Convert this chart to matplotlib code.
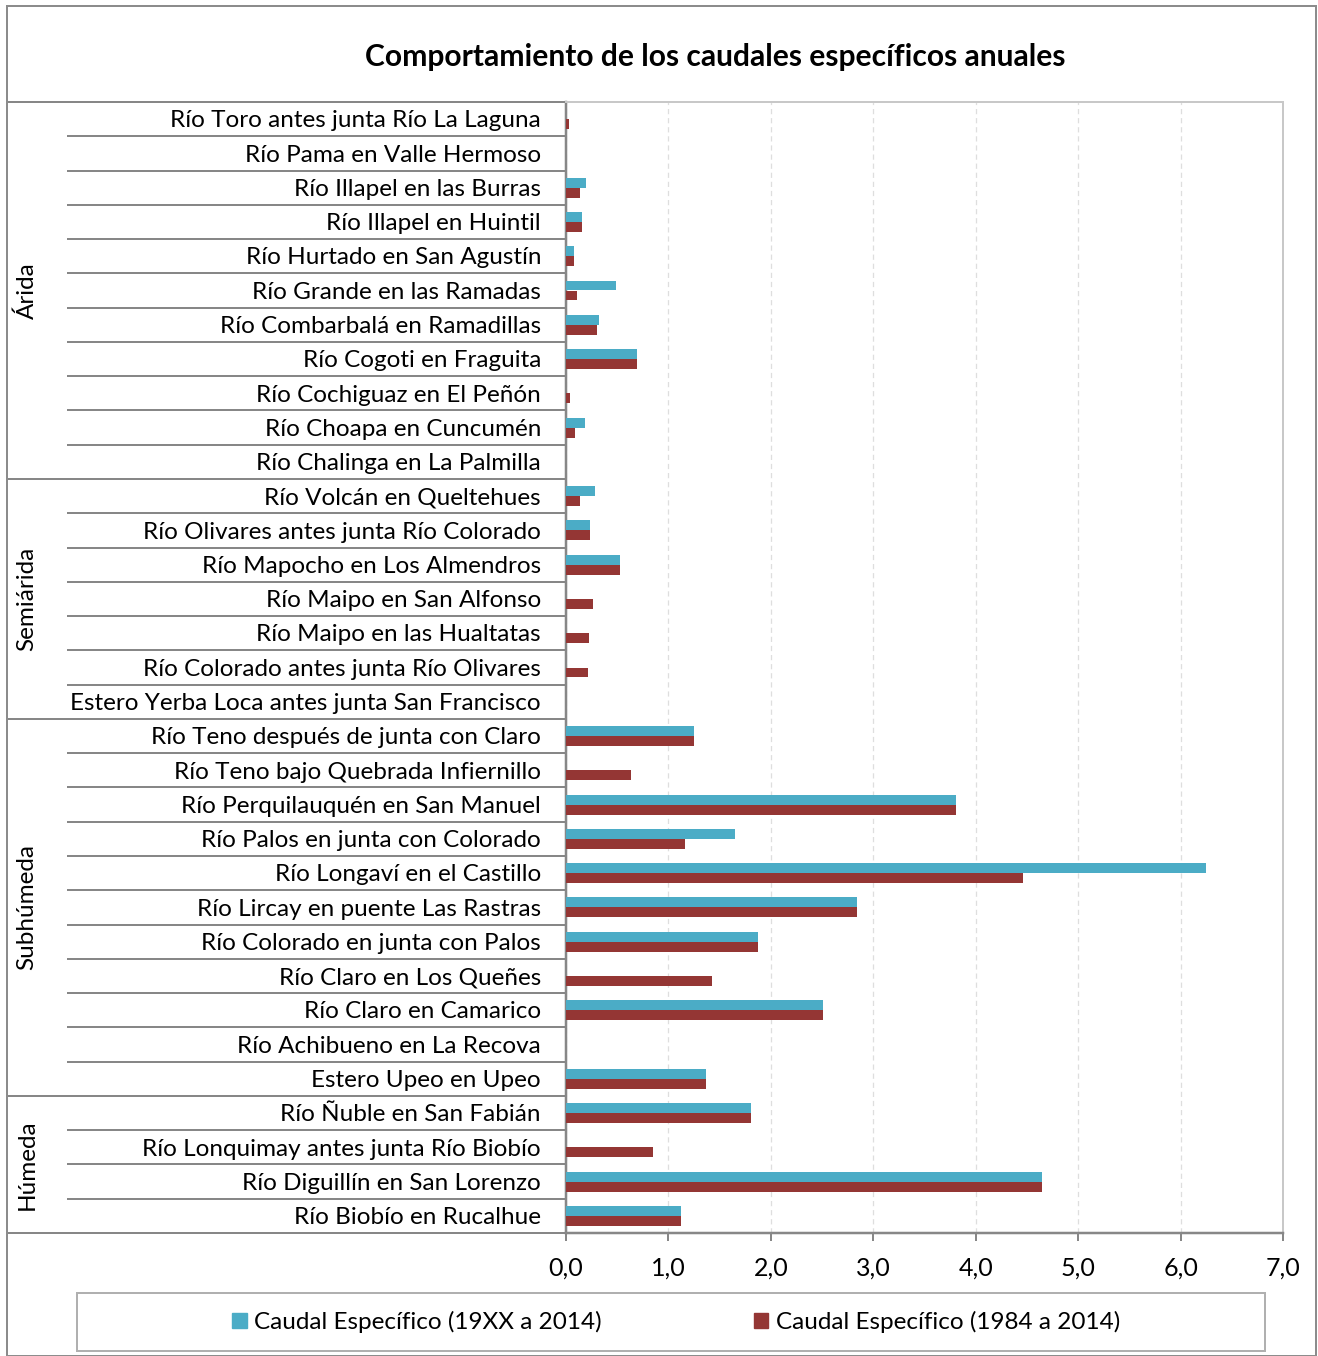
import numpy as np
import matplotlib
matplotlib.use('Agg')
import matplotlib.pyplot as plt
from matplotlib.patches import Rectangle, Patch

plt.rcParams['font.family'] = ['Lato', 'DejaVu Sans']

# ---------------- data ----------------
groups = ["Árida", "Semiárida", "Subhúmeda", "Húmeda"]
group_sizes = [11, 7, 11, 4]
categories = [
    "Río Toro antes junta Río La Laguna",
    "Río Pama en Valle Hermoso",
    "Río Illapel en las Burras",
    "Río Illapel en Huintil",
    "Río Hurtado en San Agustín",
    "Río Grande en las Ramadas",
    "Río Combarbalá en Ramadillas",
    "Río Cogoti en Fraguita",
    "Río Cochiguaz en El Peñón",
    "Río Choapa en Cuncumén",
    "Río Chalinga en La Palmilla",
    "Río Volcán en Queltehues",
    "Río Olivares antes junta Río Colorado",
    "Río Mapocho en Los Almendros",
    "Río Maipo en San Alfonso",
    "Río Maipo en las Hualtatas",
    "Río Colorado antes junta Río Olivares",
    "Estero Yerba Loca antes junta San Francisco",
    "Río Teno después de junta con Claro",
    "Río Teno bajo Quebrada Infiernillo",
    "Río Perquilauquén en San Manuel",
    "Río Palos en junta con Colorado",
    "Río Longaví en el Castillo",
    "Río Lircay en puente Las Rastras",
    "Río Colorado en junta con Palos",
    "Río Claro en Los Queñes",
    "Río Claro en Camarico",
    "Río Achibueno en La Recova",
    "Estero Upeo en Upeo",
    "Río Ñuble en San Fabián",
    "Río Lonquimay antes junta Río Biobío",
    "Río Diguillín en San Lorenzo",
    "Río Biobío en Rucalhue",
]
nan = np.nan
serie_19xx = [nan, nan, 0.20, 0.16, 0.08, 0.49, 0.32, 0.69, nan, 0.19, nan,
              0.28, 0.23, 0.53, nan, nan, nan, nan,
              1.25, nan, 3.81, 1.65, 6.25, 2.84, 1.87, nan, 2.51, nan, 1.37,
              1.81, nan, 4.65, 1.12]
serie_1984 = [0.03, nan, 0.14, 0.16, 0.08, 0.11, 0.30, 0.69, 0.04, 0.09, nan,
              0.14, 0.23, 0.53, 0.26, 0.22, 0.21, nan,
              1.25, 0.63, 3.81, 1.16, 4.46, 2.84, 1.87, 1.43, 2.51, nan, 1.37,
              1.81, 0.85, 4.65, 1.12]
series_names = ["Caudal Específico (19XX a 2014)", "Caudal Específico (1984 a 2014)"]
x_ticks = [0, 1, 2, 3, 4, 5, 6, 7]
x_tick_labels = ["0,0", "1,0", "2,0", "3,0", "4,0", "5,0", "6,0", "7,0"]
title = "Comportamiento de los caudales específicos anuales"

# ---------------- style ----------------
C_CYAN = "#4BACC6"
C_RED = "#943634"
C_AX = "#878787"
W, H = 1318, 1356
px = 72 / 100.0  # points per pixel
FS = 17.5

fig = plt.figure(figsize=(W / 100, H / 100), dpi=100)
fig.patch.set_facecolor("white")

L, R, T, B = 566, 1283, 102, 1233
ax = fig.add_axes([L / W, 1 - B / H, (R - L) / W, (B - T) / H])

n = len(categories)
y = np.arange(n) + 0.5
h = 0.29
ax.barh(y - h / 2, serie_19xx, height=h, color=C_CYAN, label=series_names[0], zorder=3)
ax.barh(y + h / 2, serie_1984, height=h, color=C_RED, label=series_names[1], zorder=3)

ax.set_ylim(n, 0)
ax.set_xlim(0, 7)
ax.set_xticks(x_ticks)
ax.set_xticklabels(x_tick_labels, fontsize=FS + 0.5)
ax.set_yticks([])
ax.tick_params(axis='x', direction='out', length=8 * px, width=2 * px, color=C_AX, pad=16 * px)
ax.xaxis.grid(True, linestyle=(0, (4, 3)), color="#dedede", lw=1.3 * px, zorder=0)
for s in ["left", "bottom"]:
    ax.spines[s].set_color(C_AX)
    ax.spines[s].set_linewidth(2.5 * px)
for s in ["top", "right"]:
    ax.spines[s].set_color("#c8c8c8")
    ax.spines[s].set_linewidth(2 * px)

tr = ax.get_yaxis_transform()
lab_x = (541 - L) / (R - L)
sep_x = (67 - L) / (R - L)
grp_x = (8 - L) / (R - L)
for i, c in enumerate(categories):
    ax.text(lab_x, y[i] + 0.05, c, transform=tr, ha="right", va="center", fontsize=FS, color="black")

bounds = np.cumsum([0] + group_sizes)
for k in range(1, n):
    x0 = grp_x if k in bounds else sep_x
    ax.plot([x0, 0], [k, k], transform=tr, color=C_AX, lw=2 * px, clip_on=False, solid_capstyle='butt')
for k in [0, n]:
    ax.plot([grp_x, 0], [k, k], transform=tr, color=C_AX, lw=2 * px, clip_on=False, solid_capstyle='butt')

grp_lab_x = (27 - L) / (R - L)
for g, a, b in zip(groups, bounds[:-1], bounds[1:]):
    ax.text(grp_lab_x, (a + b) / 2, g, transform=tr, rotation=90, ha="center", va="center", fontsize=FS)

# title
fig.text(715 / W, 1 - 57 / H, title, ha="center", va="center", fontsize=21.6, fontweight="bold")

# outer border
fig.patches.append(Rectangle((7 / W, 0), (1316 - 7) / W, 1 - 6 / H, transform=fig.transFigure,
                             fill=False, edgecolor="#8c8c8c", lw=2 * px))

# legend
fig.patches.append(Rectangle((77 / W, 1 - 1351 / H), (1265 - 77) / W, (1351 - 1293) / H,
                             transform=fig.transFigure, fill=False, edgecolor="#b0b0b0", lw=2 * px))
handles = [Patch(color=C_CYAN), Patch(color=C_RED)]
fig.legend(handles, series_names, ncol=2, loc="center", bbox_to_anchor=(676 / W, 1 - 1322 / H),
           frameon=False, fontsize=FS, handlelength=0.6, handleheight=0.6, handletextpad=0.3,
           columnspacing=6.25)

fig.savefig("out.png", dpi=100)
